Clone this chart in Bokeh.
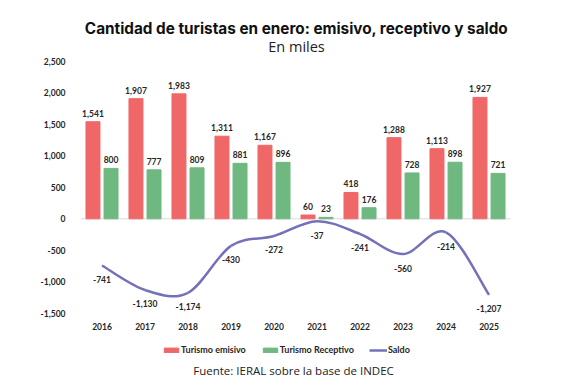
import numpy as np
from bokeh.plotting import figure
from bokeh.models import (ColumnDataSource, Label, Legend, LegendItem,
                          FixedTicker, NumeralTickFormatter, LabelSet, Range1d)
from bokeh.transform import dodge
from bokeh.core.properties import value
from bokeh.embed import file_html
from bokeh.resources import INLINE

years = ["2016", "2017", "2018", "2019", "2020", "2021", "2022", "2023", "2024", "2025"]
emisivo = [1541, 1907, 1983, 1311, 1167, 60, 418, 1288, 1113, 1927]
receptivo = [800, 777, 809, 881, 896, 23, 176, 728, 898, 721]
saldo = [-741, -1130, -1174, -430, -272, -37, -241, -560, -214, -1207]
y_ticks = [-1500, -1000, -500, 0, 500, 1000, 1500, 2000, 2500]

RED = "#f06767"
GREEN = "#6fb880"
PURPLE = "#7571b9"
TXT = "#262626"
LBL_FONT = "Lato"

x = np.arange(len(years))
fmt = lambda v: f"{v:,}"
src = ColumnDataSource(dict(
    x=x, years=years, emisivo=emisivo, receptivo=receptivo, saldo=saldo,
    base=[y_ticks[0]] * len(years),
    emisivo_lbl=[fmt(v) for v in emisivo],
    receptivo_lbl=[fmt(v) for v in receptivo],
    saldo_lbl=[fmt(v) for v in saldo],
))

# frame spans the whole canvas right of the y-axis; y mapping: 0 -> 218px, 0.063 px/unit
p = figure(width=577, height=384, output_backend="svg", toolbar_location=None,
           x_range=Range1d(-0.5, 11.058), y_range=Range1d(-2630, 3465),
           min_border_left=80, min_border_right=0, min_border_top=0,
           min_border_bottom=0, outline_line_color=None,
           background_fill_color="white", border_fill_color="white")
p.xgrid.visible = False
p.ygrid.visible = False
p.xaxis.visible = False

p.yaxis.ticker = FixedTicker(ticks=y_ticks)
p.yaxis.formatter = NumeralTickFormatter(format="0,0")
p.yaxis.axis_line_color = None
p.yaxis.major_tick_line_color = None
p.yaxis.minor_tick_line_color = None
p.yaxis.major_label_standoff = 9
p.yaxis.major_label_text_font = LBL_FONT
p.yaxis.major_label_text_font_style = "bold"
p.yaxis.major_label_text_font_size = "8.5px"
p.yaxis.major_label_text_color = TXT

# zero baseline across the category area
p.segment(x0=[x[0] - 0.5], y0=[0], x1=[x[-1] + 0.5], y1=[0],
          line_color="#d9d9d9", line_width=1)

bw = 0.325
r_em = p.vbar(x=dodge("x", -0.21), top="emisivo", width=bw, source=src, color=RED)
r_re = p.vbar(x=dodge("x", 0.21), top="receptivo", width=bw, source=src, color=GREEN)

# smoothed saldo line (Excel-style cubic Bezier through data points)
xs = x.astype(float)
ys = np.array(saldo, dtype=float)
n = len(xs)
x0, y0, x1, y1, cx0, cy0, cx1, cy1 = [], [], [], [], [], [], [], []
for i in range(n - 1):
    pm = i - 1 if i > 0 else i
    pp = i + 2 if i + 2 < n else i + 1
    x0.append(xs[i]); y0.append(ys[i])
    x1.append(xs[i + 1]); y1.append(ys[i + 1])
    cx0.append(xs[i] + (xs[i + 1] - xs[pm]) / 6)
    cy0.append(ys[i] + (ys[i + 1] - ys[pm]) / 6)
    cx1.append(xs[i + 1] - (xs[pp] - xs[i]) / 6)
    cy1.append(ys[i + 1] - (ys[pp] - ys[i]) / 6)
r_line = p.bezier(x0=x0, y0=y0, x1=x1, y1=y1, cx0=cx0, cy0=cy0, cx1=cx1, cy1=cy1,
                  line_color=PURPLE, line_width=2.5)

common = dict(source=src, text_font=value(LBL_FONT), text_font_style="bold",
              text_font_size="8.5px", text_color=TXT, text_align="center")
p.add_layout(LabelSet(x=dodge("x", -0.21), y="emisivo", text="emisivo_lbl",
                      y_offset=5, text_baseline="bottom", **common))
p.add_layout(LabelSet(x=dodge("x", 0.21), y="receptivo", text="receptivo_lbl",
                      y_offset=5, text_baseline="bottom", **common))
p.add_layout(LabelSet(x="x", y="saldo", text="saldo_lbl",
                      y_offset=-14, text_baseline="middle", **common))
# category (year) labels below the value axis bottom
p.add_layout(LabelSet(x="x", y="base", text="years",
                      y_offset=-13, text_baseline="middle", **common))

legend = Legend(items=[LegendItem(label="Turismo emisivo", renderers=[r_em]),
                       LegendItem(label="Turismo Receptivo", renderers=[r_re]),
                       LegendItem(label="Saldo", renderers=[r_line])],
                orientation="horizontal", location=(82, 29),
                border_line_color=None, background_fill_alpha=0,
                padding=0, margin=0, spacing=15, label_standoff=1,
                glyph_width=18, glyph_height=6, label_height=10,
                label_text_font=LBL_FONT, label_text_font_style="bold",
                label_text_font_size="9px", label_text_color=TXT)
p.add_layout(legend)

p.add_layout(Label(x=216, y=356, x_units="screen", y_units="screen",
                   text="Cantidad de turistas en enero: emisivo, receptivo y saldo",
                   text_font="Inter", text_font_style="bold",
                   text_font_size="15.3px", text_color="#111111",
                   text_align="center", text_baseline="middle"))
p.add_layout(Label(x=216, y=338, x_units="screen", y_units="screen",
                   text="En miles", text_font="Open Sans",
                   text_font_size="14.5px", text_color="#222222",
                   text_align="center", text_baseline="middle"))
p.add_layout(Label(x=213, y=14, x_units="screen", y_units="screen",
                   text="Fuente: IERAL sobre la base de INDEC",
                   text_font="Open Sans", text_font_size="11.5px",
                   text_color="#222222", text_align="center", text_baseline="middle"))

open("out.html", "w").write(file_html(p, INLINE))
